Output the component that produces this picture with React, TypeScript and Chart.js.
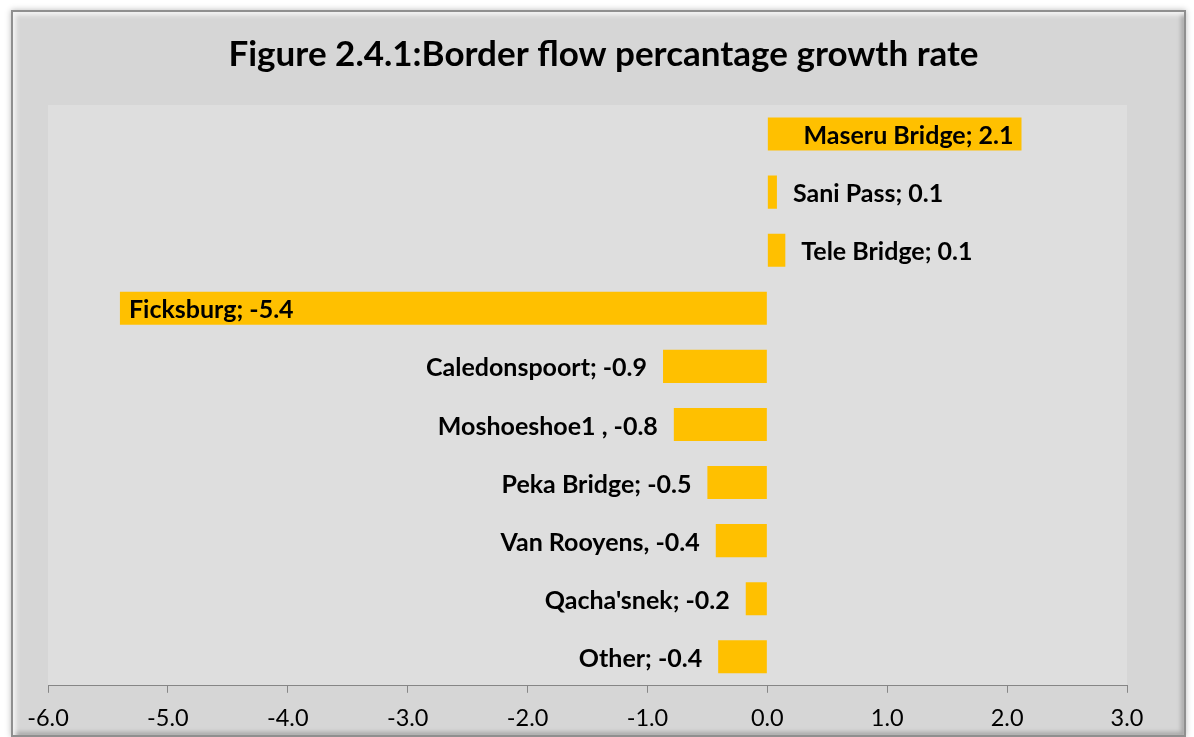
import React, { useEffect, useRef } from "react";
import { Chart, registerables } from "chart.js";

Chart.register(...registerables);

const categories = [
  "Maseru Bridge",
  "Sani Pass",
  "Tele Bridge",
  "Ficksburg",
  "Caledonspoort",
  "Moshoeshoe1",
  "Peka Bridge",
  "Van Rooyens",
  "Qacha'snek",
  "Other",
];
const values = [2.12, 0.08, 0.15, -5.4, -0.87, -0.78, -0.5, -0.43, -0.18, -0.41];
const shownValues = ["2.1", "0.1", "0.1", "-5.4", "-0.9", "-0.8", "-0.5", "-0.4", "-0.2", "-0.4"];
const separators = ["; ", "; ", "; ", "; ", "; ", " , ", "; ", ", ", "; ", "; "];

const TITLE = "Figure 2.4.1:Border flow percantage growth rate";
const FONT = "Lato, 'Open Sans', sans-serif";

const plotBg = {
  id: "plotBg",
  beforeDraw(chart: any) {
    const { ctx, chartArea } = chart;
    ctx.save();
    ctx.fillStyle = "#DEDEDE";
    ctx.fillRect(chartArea.left, chartArea.top, chartArea.right - chartArea.left, chartArea.bottom - chartArea.top);
    ctx.restore();
  },
};

const titleShift = {
  id: "titleShift",
  afterLayout(chart: any) {
    const tb = chart.titleBlock;
    if (tb) {
      tb.left += 16;
      tb.right += 16;
    }
  },
};

const barLabels = {
  id: "barLabels",
  afterDatasetsDraw(chart: any) {
    const { ctx } = chart;
    const meta = chart.getDatasetMeta(0);
    ctx.save();
    ctx.font = `bold 25px ${FONT}`;
    ctx.fillStyle = "#000";
    ctx.textBaseline = "middle";
    meta.data.forEach((bar: any, i: number) => {
      const text = categories[i] + separators[i] + shownValues[i];
      const w = ctx.measureText(text).width;
      const len = Math.abs(bar.x - bar.base);
      const positive = values[i] >= 0;
      const y = bar.y + 2;
      if (len > w + 20) {
        if (positive) {
          ctx.textAlign = "right";
          ctx.fillText(text, bar.x - 8, y);
        } else {
          ctx.textAlign = "left";
          ctx.fillText(text, bar.x + 9, y);
        }
      } else {
        if (positive) {
          ctx.textAlign = "left";
          ctx.fillText(text, bar.x + 16, y);
        } else {
          ctx.textAlign = "right";
          ctx.fillText(text, bar.x - 16, y);
        }
      }
    });
    ctx.restore();
  },
};

export default function App() {
  const ref = useRef<HTMLCanvasElement>(null);
  useEffect(() => {
    if (!ref.current) return;
    const chart = new Chart(ref.current, {
      type: "bar",
      data: {
        labels: categories,
        datasets: [
          {
            data: values,
            backgroundColor: "#FFC000",
            borderWidth: 0,
            barPercentage: 0.57,
            categoryPercentage: 1,
          },
        ],
      },
      options: {
        indexAxis: "y",
        animation: false,
        responsive: false,
        maintainAspectRatio: false,
        layout: { padding: { left: 48, right: 67, top: 0, bottom: 5 } },
        plugins: {
          legend: { display: false },
          tooltip: { enabled: false },
          title: {
            display: true,
            text: TITLE,
            color: "#000",
            font: { family: FONT, size: 35, weight: "bold", lineHeight: 1.2 },
            padding: { top: 34, bottom: 29 },
          },
        },
        scales: {
          y: { display: false },
          x: {
            min: -6,
            max: 3,
            afterFit: (scale: any) => {
              scale.height -= 13;
            },
            ticks: {
              stepSize: 1,
              color: "#000",
              font: { family: FONT, size: 23.5, lineHeight: 1.2 },
              padding: 12,
              callback: (v: any) => Number(v).toFixed(1),
            },
            grid: {
              drawOnChartArea: false,
              drawTicks: true,
              tickLength: 7,
              color: "#868686",
            },
            border: { display: true, color: "#868686", width: 1 },
          },
        },
      },
      plugins: [plotBg, titleShift, barLabels],
    });
    return () => chart.destroy();
  }, []);
  return (
    <div>
      <div
        style={{
          position: "absolute",
          left: 11,
          top: 10,
          width: 1175,
          height: 727,
          boxSizing: "border-box",
          border: "2px solid #8f8f8f",
          background: "#D6D6D6",
          boxShadow: "inset 3px 3px 4px #f4f4f4, inset -3px -3px 4px #a8a8a8, 0 0 6px #bbb",
        }}
      />
      <canvas
        ref={ref}
        width={1194}
        height={737}
        style={{ position: "absolute", left: 0, top: 0, width: 1194, height: 737 }}
      />
    </div>
  );
}
